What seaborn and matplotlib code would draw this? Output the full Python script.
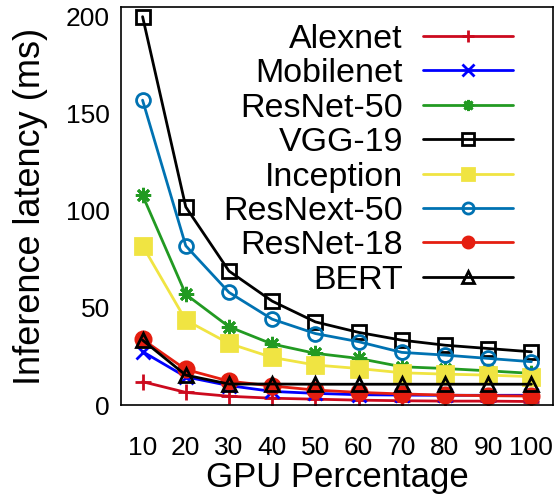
import matplotlib
matplotlib.use("Agg")
import matplotlib.pyplot as plt
import seaborn as sns
import pandas as pd

gpu_pct = [10, 20, 30, 40, 50, 60, 70, 80, 90, 100]
alexnet = [12, 6.5, 4.5, 3.5, 3.0, 2.5, 2.2, 2.0, 2.0, 1.8]
mobilenet = [27.5, 14.5, 10.0, 7.0, 6.0, 5.3, 5.1, 5.0, 5.0, 5.0]
resnet50 = [108, 57, 40.3, 31.4, 26.6, 24.0, 19.7, 18.8, 17.6, 16.3]
vgg19 = [200, 102, 69, 53.5, 42.8, 37.4, 33.4, 30.8, 29.1, 27.4]
inception = [82, 43.7, 31.7, 24.5, 20.6, 18.8, 16.6, 15.9, 15.4, 14.6]
resnext50 = [157, 82, 58, 44.2, 36.8, 32.6, 27.1, 25.7, 24.0, 22.3]
resnet18 = [33.8, 18.3, 12.3, 9.8, 7.7, 6.5, 5.7, 5.1, 4.8, 4.6]
bert = [33.4, 15.4, 10.8, 10.8, 10.7, 10.7, 10.7, 10.7, 10.7, 10.7]

names = ["Alexnet", "Mobilenet", "ResNet-50", "VGG-19", "Inception",
         "ResNext-50", "ResNet-18", "BERT"]
series = [alexnet, mobilenet, resnet50, vgg19, inception, resnext50, resnet18, bert]

colors = ["#cc0a1e", "#0000ff", "#229a22", "#000000", "#f0e442",
          "#0072b2", "#e51e10", "#000000"]
markers = ["+", "x", (8, 2, 0), "s", "s", "o", "o", "^"]
filled = [True, True, True, False, True, False, True, False]
msizes = [12, 10, 11, 10, 11, 10, 11, 10]

sns.set_style("white")
plt.rcParams["font.family"] = ["Liberation Sans", "DejaVu Sans"]
plt.rcParams["text.color"] = "black"
plt.rcParams["axes.labelcolor"] = "black"
plt.rcParams["xtick.color"] = "black"
plt.rcParams["ytick.color"] = "black"

fig = plt.figure(figsize=(5.58, 4.97), dpi=100)
ax = fig.add_axes([0.2168, 0.1851, 0.991 - 0.2168, 0.986 - 0.1851])

for name, vals, c, m, f, ms in zip(names, series, colors, markers, filled, msizes):
    df = pd.DataFrame({"x": gpu_pct, "y": vals})
    kw = dict(color=c, marker=m, markersize=ms, linewidth=2.0,
              markeredgewidth=2.0, label=name, ax=ax)
    kw["markeredgecolor"] = c
    kw["markerfacecolor"] = c if f else "none"
    sns.lineplot(data=df, x="x", y="y", **kw)

ax.set_xlim(5, 105)
ax.set_ylim(0, 205)
ax.set_xticks(gpu_pct)
ax.set_yticks([0, 50, 100, 150, 200])
ax.tick_params(axis="both", direction="in", length=10, width=1, colors="#333333",
               labelcolor="black", labelsize=19)
ax.tick_params(axis="x", pad=22)
ax.tick_params(axis="y", pad=8)
for s in ax.spines.values():
    s.set_color("black")
    s.set_linewidth(1.2)
    s.set_visible(True)

ax.set_xlabel("GPU Percentage", fontsize=25, labelpad=1)
ax.set_ylabel("Inference latency (ms)", fontsize=26, labelpad=13)

leg = ax.legend(loc="upper right", bbox_to_anchor=(0.948, 1.0), frameon=False,
                markerfirst=False, fontsize=24.5, handlelength=2.65,
                handletextpad=0.6, labelspacing=0.1, borderaxespad=0.1)
for h in leg.legend_handles:
    h.set_markersize(8)

fig.savefig("out.png", dpi=100)
